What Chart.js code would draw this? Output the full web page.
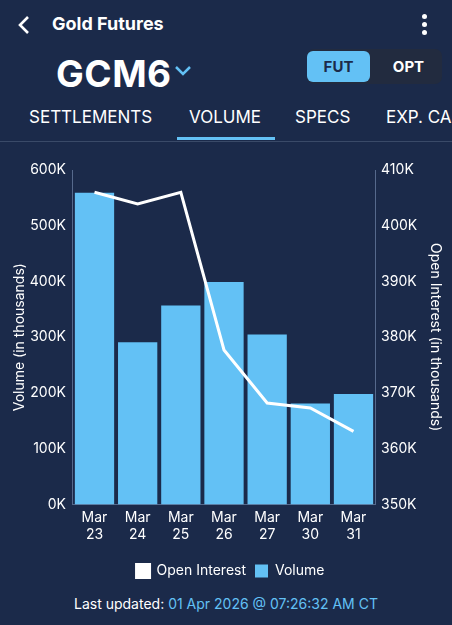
<!DOCTYPE html>
<html>
<head>
<meta charset="utf-8">
<script src="https://cdn.jsdelivr.net/npm/chart.js@4"></script>
<style>
  html, body { margin: 0; padding: 0; }
  body {
    width: 452px; height: 625px; overflow: hidden; position: relative;
    background: #1b2a4a; color: #fff; font-family: "Inter", "Lato", sans-serif;
  }
  .abs { position: absolute; }
  #back { left: 17px; top: 15px; }
  #title { left: 52px; top: 13px; font-size: 18px; font-weight: 700; }
  #menu { left: 422px; top: 14px; }
  #menu span { display: block; width: 5px; height: 5px; border-radius: 50%; background: #fff; margin-bottom: 3px; }
  #sym { left: 56px; top: 51px; font-size: 37px; font-weight: 700; letter-spacing: 0.5px; }
  #chev { left: 174px; top: 65px; }
  #toggle { left: 307px; top: 49px; width: 135px; height: 35px; border-radius: 7px; background: #222b3f; }
  #fut { left: 0; top: 2px; width: 63px; height: 31px; border-radius: 6px; background: #63c1f5;
    color: #1b2a4a; font-weight: 700; font-size: 15px; text-align: center; line-height: 31px; }
  #opt { left: 70px; top: 2px; width: 63px; height: 31px; color: #fff; font-weight: 700; font-size: 15px;
    text-align: center; line-height: 31px; }
  .tab { top: 107px; font-size: 17px; color: #fff; white-space: nowrap; }
  #underline { left: 177px; top: 137px; width: 98px; height: 3px; background: #63c1f5; }
  #divider { left: 0; top: 141px; width: 452px; height: 1px; background: #3a4a68; }
  #wrap { left: 0; top: 152px; width: 452px; height: 436px; }
  #updated { left: 0; top: 595px; width: 452px; text-align: center; font-size: 14px; color: #fff; }
  #updated span { color: #63c1f5; }
</style>
</head>
<body>
<svg class="abs" id="back" width="14" height="20" viewBox="0 0 14 20"><polyline points="11,2 3,10 11,18" fill="none" stroke="#fff" stroke-width="2.6"/></svg>
<div class="abs" id="title">Gold Futures</div>
<div class="abs" id="menu"><span></span><span></span><span></span></div>
<div class="abs" id="sym">GCM6</div>
<svg class="abs" id="chev" width="18" height="12" viewBox="0 0 18 12"><polyline points="2,2 9,9 16,2" fill="none" stroke="#63c1f5" stroke-width="2.5"/></svg>
<div class="abs" id="toggle">
  <div class="abs" id="fut">FUT</div>
  <div class="abs" id="opt">OPT</div>
</div>
<div class="abs tab" style="left:29px">SETTLEMENTS</div>
<div class="abs tab" style="left:189px">VOLUME</div>
<div class="abs tab" style="left:295px">SPECS</div>
<div class="abs tab" style="left:386px">EXP. CAL</div>
<div class="abs" id="underline"></div>
<div class="abs" id="divider"></div>
<div class="abs" id="wrap"><canvas id="chart"></canvas></div>
<div class="abs" id="updated">Last updated: <span>01 Apr 2026 @ 07:26:32 AM CT</span></div>

<script>
  // Trading days shown on the x axis
  const days = [['Mar', '23'], ['Mar', '24'], ['Mar', '25'], ['Mar', '26'], ['Mar', '27'], ['Mar', '30'], ['Mar', '31']];

  // Volume and open interest, in thousands
  const volume = [559, 291, 357, 399, 305, 181, 198];
  const openInterest = [406.0, 403.9, 406.0, 377.7, 368.2, 367.3, 363.1];

  const textColor = '#ffffff';
  const axisColor = '#56698c';
  const barColor = '#63c1f5';

  Chart.defaults.font.family = '"Inter", "Lato", sans-serif';
  Chart.defaults.color = textColor;

  new Chart(document.getElementById('chart').getContext('2d'), {
    type: 'bar',
    data: {
      labels: days,
      datasets: [{
        type: 'line',
        label: 'Open Interest',
        data: openInterest,
        yAxisID: 'oi',
        borderColor: '#ffffff',
        backgroundColor: '#ffffff',
        borderWidth: 3,
        pointRadius: 0,
        tension: 0,
        order: 0
      }, {
        label: 'Volume',
        data: volume,
        yAxisID: 'vol',
        backgroundColor: barColor,
        barPercentage: 0.91,
        categoryPercentage: 1,
        order: 1
      }]
    },
    options: {
      responsive: true,
      maintainAspectRatio: false,
      animation: false,
      layout: { padding: { left: 9, right: 0, top: 18, bottom: 0 } },
      scales: {
        x: {
          grid: { display: false, drawTicks: false },
          border: { color: axisColor, width: 1 },
          ticks: { color: textColor, font: { size: 14 }, maxRotation: 0, padding: 5 },
          afterFit: s => { s.height += 7; }
        },
        vol: {
          position: 'left',
          min: 0, max: 600,
          grid: { display: false, drawTicks: false },
          border: { color: axisColor, width: 1 },
          ticks: { stepSize: 100, color: textColor, font: { size: 14 }, padding: 7, callback: v => v + 'K' },
          title: { display: true, text: 'Volume (in thousands)', color: textColor, font: { size: 14 }, padding: { top: 2, bottom: -5 } }
        },
        oi: {
          position: 'right',
          min: 350, max: 410,
          grid: { display: false, drawTicks: false },
          border: { color: axisColor, width: 1 },
          ticks: { stepSize: 10, color: textColor, font: { size: 14 }, padding: 6, callback: v => v + 'K' },
          title: { display: true, text: 'Open Interest (in thousands)', color: textColor, font: { size: 14 }, padding: { top: 8, bottom: 4 } }
        }
      },
      plugins: {
        legend: {
          position: 'bottom',
          labels: { boxWidth: 13, boxHeight: 13, color: textColor, font: { size: 14 }, padding: 9 }
        },
        tooltip: { enabled: false }
      }
    }
  });
</script>
</body>
</html>
